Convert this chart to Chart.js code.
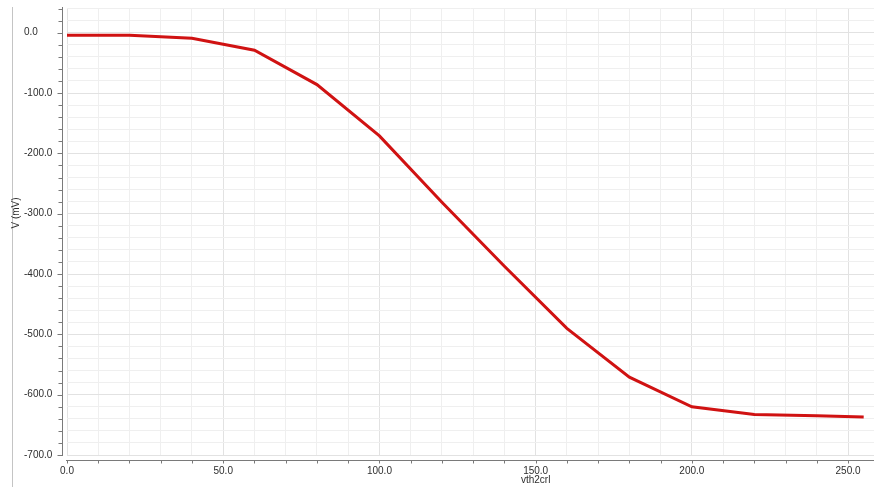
<!DOCTYPE html>
<html>
<head>
<meta charset="utf-8">
<script src="https://cdn.jsdelivr.net/npm/chart.js@4/dist/chart.umd.min.js"></script>
<style>
  html, body { margin: 0; padding: 0; background: #ffffff; }
  #wrap { width: 874px; height: 489px; position: relative; }
</style>
</head>
<body>
<div id="wrap"><canvas id="c" width="874" height="489"></canvas></div>
<script>
// Sweep of the vth2crl control code against the measured voltage
const vth2crl = [0, 20, 40, 60, 80, 100, 120, 140, 160, 180, 200, 220, 240, 255];
const voltageMv = [-4, -4, -9, -29, -86, -171, -281, -387, -490, -571, -620, -633, -635, -637];

// Axis ranges and tick spacing
const xRange = [0, 258.3];
const yRange = [-700, 41];
const xMinorStep = 10, xLabelStep = 50;
const yMinorStep = 20, yLabelStep = 100;
const xTitle = 'vth2crl';
const yTitle = 'V (mV)';

const FONT = '"Liberation Sans", Arial, sans-serif';
const isMultiple = (v, s) => Math.abs(v / s - Math.round(v / s)) < 1e-6;

// Evenly spaced ticks inside [lo, hi]
function stepTicks(lo, hi, step) {
  const out = [];
  for (let v = Math.ceil(lo / step) * step; v <= hi + 1e-9; v += step) {
    out.push({ value: Math.round(v * 1e6) / 1e6 });
  }
  return out;
}

// Detached axis lines, tick marks, frame line and axis titles
const axisDecor = {
  id: 'axisDecor',
  afterDraw(chart) {
    const { ctx, chartArea, scales } = chart;
    const xs = scales.x, ys = scales.y;
    ctx.save();

    // thin frame line on the far left
    ctx.strokeStyle = '#c4c4c4';
    ctx.lineWidth = 1;
    ctx.beginPath();
    ctx.moveTo(12.5, 7);
    ctx.lineTo(12.5, 487);
    ctx.stroke();

    ctx.strokeStyle = '#7a7a7a';
    ctx.lineWidth = 1;

    // y axis line set slightly left of the plot
    const yAxisX = chartArea.left - 4.5;
    ctx.beginPath();
    ctx.moveTo(yAxisX, chartArea.top - 1);
    ctx.lineTo(yAxisX, ys.getPixelForValue(ys.min) + 1);
    ctx.stroke();
    ys.ticks.forEach(t => {
      const py = Math.round(ys.getPixelForValue(t.value)) + 0.5;
      const len = isMultiple(t.value, yLabelStep) ? 5 : 4;
      ctx.beginPath();
      ctx.moveTo(yAxisX - len, py);
      ctx.lineTo(yAxisX, py);
      ctx.stroke();
    });

    // x axis line set slightly below the plot
    const xAxisY = chartArea.bottom + 5.5;
    ctx.beginPath();
    ctx.moveTo(xs.getPixelForValue(0) - 1, xAxisY);
    ctx.lineTo(chartArea.right, xAxisY);
    ctx.stroke();
    xs.ticks.forEach(t => {
      const px = Math.round(xs.getPixelForValue(t.value)) + 0.5;
      ctx.beginPath();
      ctx.moveTo(px, xAxisY);
      ctx.lineTo(px, xAxisY + 3);
      ctx.stroke();
    });

    // axis titles
    ctx.fillStyle = '#2e2e2e';
    ctx.font = '10px ' + FONT;
    ctx.textAlign = 'center';
    ctx.textBaseline = 'middle';
    ctx.fillText(xTitle, xs.getPixelForValue(150), 480);

    ctx.translate(16, 213);
    ctx.rotate(-Math.PI / 2);
    ctx.fillText(yTitle, 0, 0);
    ctx.restore();
  }
};

new Chart(document.getElementById('c'), {
  type: 'line',
  data: {
    datasets: [{
      data: vth2crl.map((x, i) => ({ x, y: voltageMv[i] })),
      borderColor: '#d01212',
      borderWidth: 3,
      pointRadius: 0,
      tension: 0,
      fill: false
    }]
  },
  options: {
    responsive: false,
    animation: false,
    devicePixelRatio: 1,
    layout: { padding: { left: 24, top: 8, right: 0, bottom: 0 } },
    plugins: { legend: { display: false }, tooltip: { enabled: false } },
    scales: {
      x: {
        type: 'linear',
        min: xRange[0],
        max: xRange[1],
        border: { display: false },
        grid: {
          drawTicks: false,
          color: ctx => isMultiple(ctx.tick.value, xLabelStep) ? '#e2e2e2' : '#efefef',
          lineWidth: 1
        },
        afterBuildTicks: s => { s.ticks = stepTicks(xRange[0], xRange[1], xMinorStep); },
        afterFit: s => { s.height = 34; },
        ticks: {
          autoSkip: false,
          maxRotation: 0,
          padding: 10,
          color: '#2e2e2e',
          font: { family: FONT, size: 10 },
          callback: v => isMultiple(v, xLabelStep) ? v.toFixed(1) : ''
        }
      },
      y: {
        type: 'linear',
        min: yRange[0],
        max: yRange[1],
        border: { display: false },
        grid: {
          drawTicks: false,
          color: ctx => isMultiple(ctx.tick.value, yLabelStep) ? '#e2e2e2' : '#efefef',
          lineWidth: 1
        },
        afterBuildTicks: s => { s.ticks = stepTicks(yRange[0], yRange[1], yMinorStep); },
        afterFit: s => { s.width = 43; },
        ticks: {
          autoSkip: false,
          crossAlign: 'far',
          padding: 0,
          color: '#2e2e2e',
          font: { family: FONT, size: 10 },
          callback: v => isMultiple(v, yLabelStep) ? v.toFixed(1) : ''
        }
      }
    }
  },
  plugins: [axisDecor]
});
</script>
</body>
</html>
